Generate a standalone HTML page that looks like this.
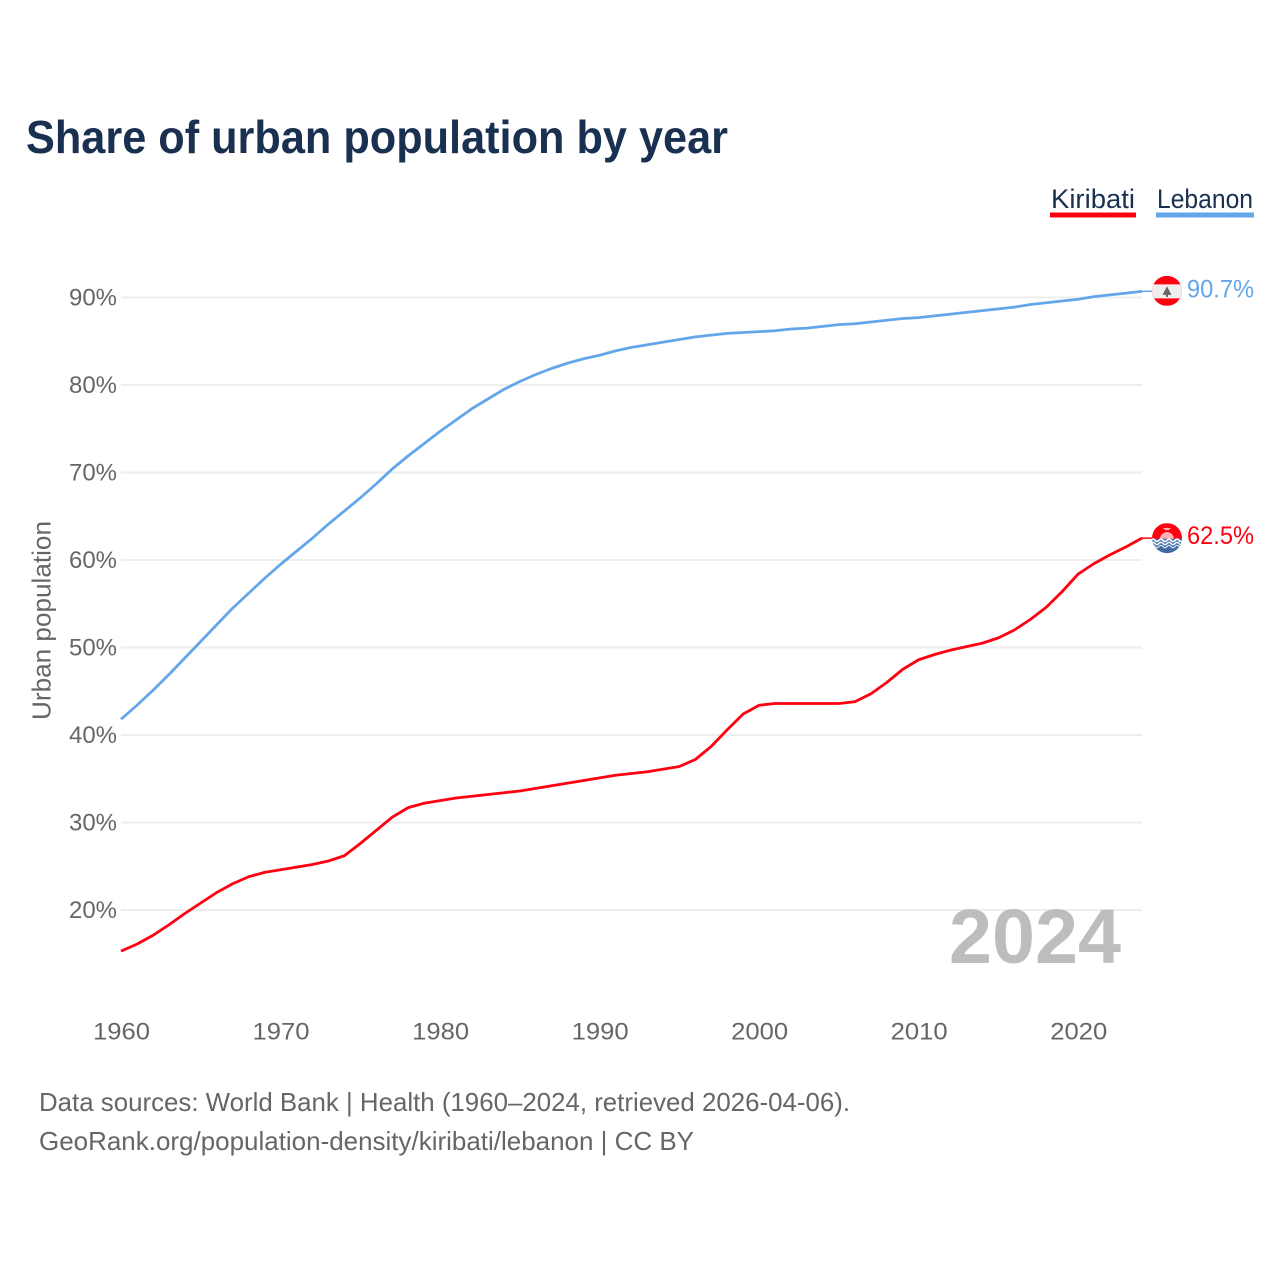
<!DOCTYPE html>
<html lang="en">
<head>
<meta charset="utf-8">
<title>Share of urban population by year</title>
<style>
html,body{margin:0;padding:0;background:#fff;}
svg{display:block;}
text{font-family:"Liberation Sans",sans-serif;}
</style>
</head>
<body>
<svg id="chart" xmlns="http://www.w3.org/2000/svg" width="1280" height="1280" viewBox="0 0 1280 1280">
  <rect x="0" y="0" width="1280" height="1280" fill="#fff"/>
  <text x="26" y="153" font-size="46" font-weight="700" fill="#1a3050" textLength="702" lengthAdjust="spacingAndGlyphs">Share of urban population by year</text>

  <g>
    <text x="1051" y="208" font-size="27" fill="#1a3050" textLength="84" lengthAdjust="spacingAndGlyphs">Kiribati</text>
    <rect x="1050" y="212.5" width="86" height="5" fill="#ff0011"/>
  </g>
  <g>
    <text x="1157" y="208" font-size="27" fill="#1a3050" textLength="96" lengthAdjust="spacingAndGlyphs">Lebanon</text>
    <rect x="1156" y="212.5" width="98" height="5" fill="#64a6ea"/>
  </g>

  <g id="grid"></g>
  <g id="y-ticks"></g>
  <g id="x-ticks"></g>
  <text transform="translate(50.5 720) rotate(-90)" x="0" y="0" font-size="26" fill="#666" textLength="199" lengthAdjust="spacingAndGlyphs">Urban population</text>

  <text x="949" y="963" font-size="77" font-weight="700" fill="#bdbdbd" textLength="172" lengthAdjust="spacingAndGlyphs">2024</text>

  <g id="series"></g>
  <g id="end-markers"></g>

  <g>
    <text x="39" y="1111" font-size="26" fill="#666" textLength="811" lengthAdjust="spacingAndGlyphs">Data sources: World Bank | Health (1960–2024, retrieved 2026-04-06).</text>
    <text x="39" y="1150" font-size="26" fill="#666" textLength="655" lengthAdjust="spacingAndGlyphs">GeoRank.org/population-density/kiribati/lebanon | CC BY</text>
  </g>
</svg>
<script>
const years = [];
for (let year = 1960; year <= 2024; year++) years.push(year);
const kiribatiValues = [15.3,16.1,17.1,18.3,19.6,20.8,22.0,23.0,23.8,24.3,24.6,24.9,25.2,25.6,26.2,27.6,29.1,30.6,31.7,32.2,32.5,32.8,33.0,33.2,33.4,33.6,33.9,34.2,34.5,34.8,35.1,35.4,35.6,35.8,36.1,36.4,37.2,38.7,40.6,42.4,43.4,43.6,43.6,43.6,43.6,43.6,43.8,44.7,46.0,47.5,48.6,49.2,49.7,50.1,50.5,51.1,52.0,53.2,54.6,56.4,58.4,59.6,60.6,61.5,62.5];
const lebanonValues = [41.8,43.4,45.1,46.9,48.8,50.7,52.6,54.5,56.2,57.9,59.5,61.0,62.5,64.1,65.6,67.1,68.7,70.4,71.9,73.3,74.7,76.0,77.3,78.4,79.5,80.4,81.2,81.9,82.5,83.0,83.4,83.9,84.3,84.6,84.9,85.2,85.5,85.7,85.9,86.0,86.1,86.2,86.4,86.5,86.7,86.9,87.0,87.2,87.4,87.6,87.7,87.9,88.1,88.3,88.5,88.7,88.9,89.2,89.4,89.6,89.8,90.1,90.3,90.5,90.7];
const yTickValues = [20,30,40,50,60,70,80,90];
const xTickValues = [1960,1970,1980,1990,2000,2010,2020];

const SVG_NS = 'http://www.w3.org/2000/svg';
const xScale = function (year) { return 121 + (year - 1960) * (1142 - 121) / 64; };
const yScale = function (value) { return 910 - (value - 20) * 8.75; };
const make = function (tag, parent, attrs, content) {
  const el = document.createElementNS(SVG_NS, tag);
  Object.keys(attrs).forEach(function (k) { el.setAttribute(k, attrs[k]); });
  if (content !== undefined) el.textContent = content;
  parent.appendChild(el);
  return el;
};

const gridGroup = document.getElementById('grid');
const yTickGroup = document.getElementById('y-ticks');
yTickValues.forEach(function (value) {
  const line = make('line', gridGroup, {x1: xScale(1960), x2: xScale(2024), y1: yScale(value), y2: yScale(value), stroke: '#eeeeee', 'stroke-width': 2});
  
  
  const label = make('text', yTickGroup, {x: 117, y: yScale(value) + 8, 'text-anchor': 'end', 'font-size': 24, fill: '#666', textLength: 48, lengthAdjust: 'spacingAndGlyphs'}, value + '%');
  
  
});

const xTickGroup = document.getElementById('x-ticks');
xTickValues.forEach(function (year) {
  const label = make('text', xTickGroup, {x: xScale(year) + 0.5, y: 1039.5, 'text-anchor': 'middle', 'font-size': 24, fill: '#666', textLength: 57, lengthAdjust: 'spacingAndGlyphs'}, String(year));
  
  
});

const linePath = function (values) {
  return values.map(function (v, i) {
    return (i ? 'L' : 'M') + xScale(years[i]).toFixed(2) + ' ' + yScale(v).toFixed(2);
  }).join(' ');
};
const seriesGroup = document.getElementById('series');
const lebanonLine = make('path', seriesGroup, {d: linePath(lebanonValues), fill: 'none', stroke: '#64a6ea', 'stroke-width': 2.8, 'stroke-linejoin': 'round'});


const kiribatiLine = make('path', seriesGroup, {d: linePath(kiribatiValues), fill: 'none', stroke: '#ff0011', 'stroke-width': 2.8, 'stroke-linejoin': 'round'});



const markerGroup = document.getElementById('end-markers');
const flagX = 1167, flagR = 15;

/* Lebanon end marker */
const lebanonLast = lebanonValues[lebanonValues.length - 1];
const lebanonY = yScale(lebanonLast) - 0.5;
const lebanonConnector = make('line', markerGroup, {x1: xScale(2024), x2: flagX, y1: yScale(lebanonLast), y2: lebanonY, stroke: '#64a6ea', 'stroke-width': 1.5});


const lebanonFlag = make('g', markerGroup, {transform: 'translate(' + flagX + ' ' + lebanonY + ')'});


make('clipPath', lebanonFlag, {id: 'clip-lb'}).appendChild(document.createElementNS(SVG_NS, 'circle')).setAttribute('r', flagR);
const lebanonClip = make('g', lebanonFlag, {'clip-path': 'url(#clip-lb)'});
make('rect', lebanonClip, {x: -flagR, y: -flagR, width: 30, height: 30, fill: '#ff0011'});
make('rect', lebanonClip, {x: -flagR, y: -6.5, width: 30, height: 14, fill: '#eeeeee'});
make('path', lebanonClip, {d: 'M0 -4.5 L4.5 4 L1 4 L1 6 L-1 6 L-1 4 L-4.5 4 Z', fill: '#666'});
const lebanonValue = make('text', markerGroup, {x: 1187, y: lebanonY + 6.5, 'font-size': 25, fill: '#64a6ea', textLength: 67, lengthAdjust: 'spacingAndGlyphs'}, lebanonLast.toFixed(1) + '%');



/* Kiribati end marker */
const kiribatiLast = kiribatiValues[kiribatiValues.length - 1];
const kiribatiY = yScale(kiribatiLast);
const kiribatiConnector = make('line', markerGroup, {x1: xScale(2024), x2: flagX, y1: kiribatiY, y2: kiribatiY, stroke: '#ff0011', 'stroke-width': 1.5});


const kiribatiFlag = make('g', markerGroup, {transform: 'translate(' + flagX + ' ' + kiribatiY + ')'});


make('clipPath', kiribatiFlag, {id: 'clip-ki'}).appendChild(document.createElementNS(SVG_NS, 'circle')).setAttribute('r', flagR);
const kiribatiClip = make('g', kiribatiFlag, {'clip-path': 'url(#clip-ki)'});
make('rect', kiribatiClip, {x: -flagR, y: -flagR, width: 30, height: 16, fill: '#ff0011'});
make('circle', kiribatiClip, {cx: 0, cy: 1, r: 7, fill: '#ffb0b0'});
make('path', kiribatiClip, {d: 'M-4 -10 L4 -10 L1.5 -8 L-1.5 -8 Z', fill: '#ffc0c0'});
make('rect', kiribatiClip, {x: -flagR, y: 0.5, width: 30, height: 15, fill: '#3f6aa3'});
const wavePath = function (y) {
  return 'M-16 ' + y + ' q2 -2.4 4 0 t4 0 t4 0 t4 0 t4 0 t4 0 t4 0 t4 0';
};
make('path', kiribatiClip, {d: wavePath(2.2), fill: 'none', stroke: '#f2f5fa', 'stroke-width': 1.8});
make('path', kiribatiClip, {d: wavePath(5.4), fill: 'none', stroke: '#f2f5fa', 'stroke-width': 1.6});
make('path', kiribatiClip, {d: wavePath(8.4), fill: 'none', stroke: '#dfe7f2', 'stroke-width': 1.2});
const kiribatiValue = make('text', markerGroup, {x: 1187, y: kiribatiY + 6, 'font-size': 25, fill: '#ff0011', textLength: 67, lengthAdjust: 'spacingAndGlyphs'}, kiribatiLast.toFixed(1) + '%');


</script>
</body>
</html>
